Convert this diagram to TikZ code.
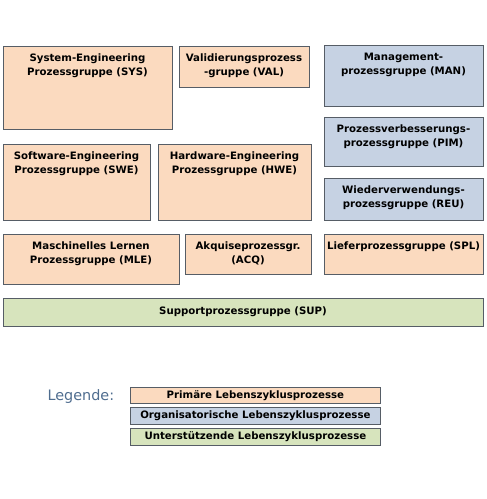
\documentclass[tikz,border=0pt]{standalone}
\usepackage{fontspec}
\setmainfont{DejaVu Sans}
\definecolor{prim}{HTML}{FBDABF}
\definecolor{orga}{HTML}{C6D2E3}
\definecolor{supp}{HTML}{D7E4BD}
\definecolor{rand}{HTML}{565D66}
\definecolor{legtxt}{HTML}{4F6D8F}
\begin{document}
\begin{tikzpicture}[x=1pt,y=-1pt,
    grp/.style = {rectangle,draw=rand,line width=0.8pt,anchor=north west,inner sep=0pt,outer sep=0mm},
    grptext/.style = {anchor=north,align=center,inner sep=0pt,font=\bfseries\fontsize{10.2}{13.4}\selectfont,yshift=-8pt},
    legbox/.style = {rectangle,draw=rand,line width=0.8pt,anchor=north west,minimum width=250pt,inner sep=0pt,font=\bfseries\fontsize{10.2}{12}\selectfont}]
\useasboundingbox (0,0) rectangle (487,499);
\foreach \n/\x/\y/\w/\h/\c/\t in {
    sys/3/46/169/83/prim/{System-Engineering\\Prozessgruppe (SYS)},
    val/179/46/130/41/prim/{Validierungsprozess\\-gruppe (VAL)},
    man/324/45/159/61/orga/{Management-\\prozessgruppe (MAN)},
    pim/324/117/159/49/orga/{Prozessverbesserungs-\\prozessgruppe (PIM)},
    swe/3/144/147/76/prim/{Software-Engineering\\Prozessgruppe (SWE)},
    hwe/158/144/153/76/prim/{Hardware-Engineering\\Prozessgruppe (HWE)},
    reu/324/178/159/42/orga/{Wiederverwendungs-\\prozessgruppe (REU)},
    mle/3/234/176/50/prim/{Maschinelles Lernen\\Prozessgruppe (MLE)},
    acq/185/234/126/40/prim/{Akquiseprozessgr.\\(ACQ)},
    spl/324/234/159/40/prim/{Lieferprozessgruppe (SPL)}}
{
    \node[grp,fill=\c,minimum width=\w pt,minimum height=\h pt] (\n) at (\x,\y) {};
    \node[grptext] (\n-t) at (\n.north) {\t};
}
\node[grp,fill=supp,minimum width=480pt,minimum height=28pt,font=\bfseries\fontsize{10.2}{13.4}\selectfont] (sup) at (3,298) {Supportprozessgruppe (SUP)};
% Legende
\node[anchor=west,text=legtxt,font=\fontsize{14.4}{17}\selectfont] (leg) at (44,397) {Legende:};
\node[legbox,fill=prim,minimum height=16pt] (lprim) at (130,387) {Primäre Lebenszyklusprozesse};
\node[legbox,fill=orga,minimum height=17pt] (lorga) at (130,407) {Organisatorische Lebenszyklusprozesse};
\node[legbox,fill=supp,minimum height=17pt] (lsupp) at (130,428) {Unterstützende Lebenszyklusprozesse};
\end{tikzpicture}
\end{document}
